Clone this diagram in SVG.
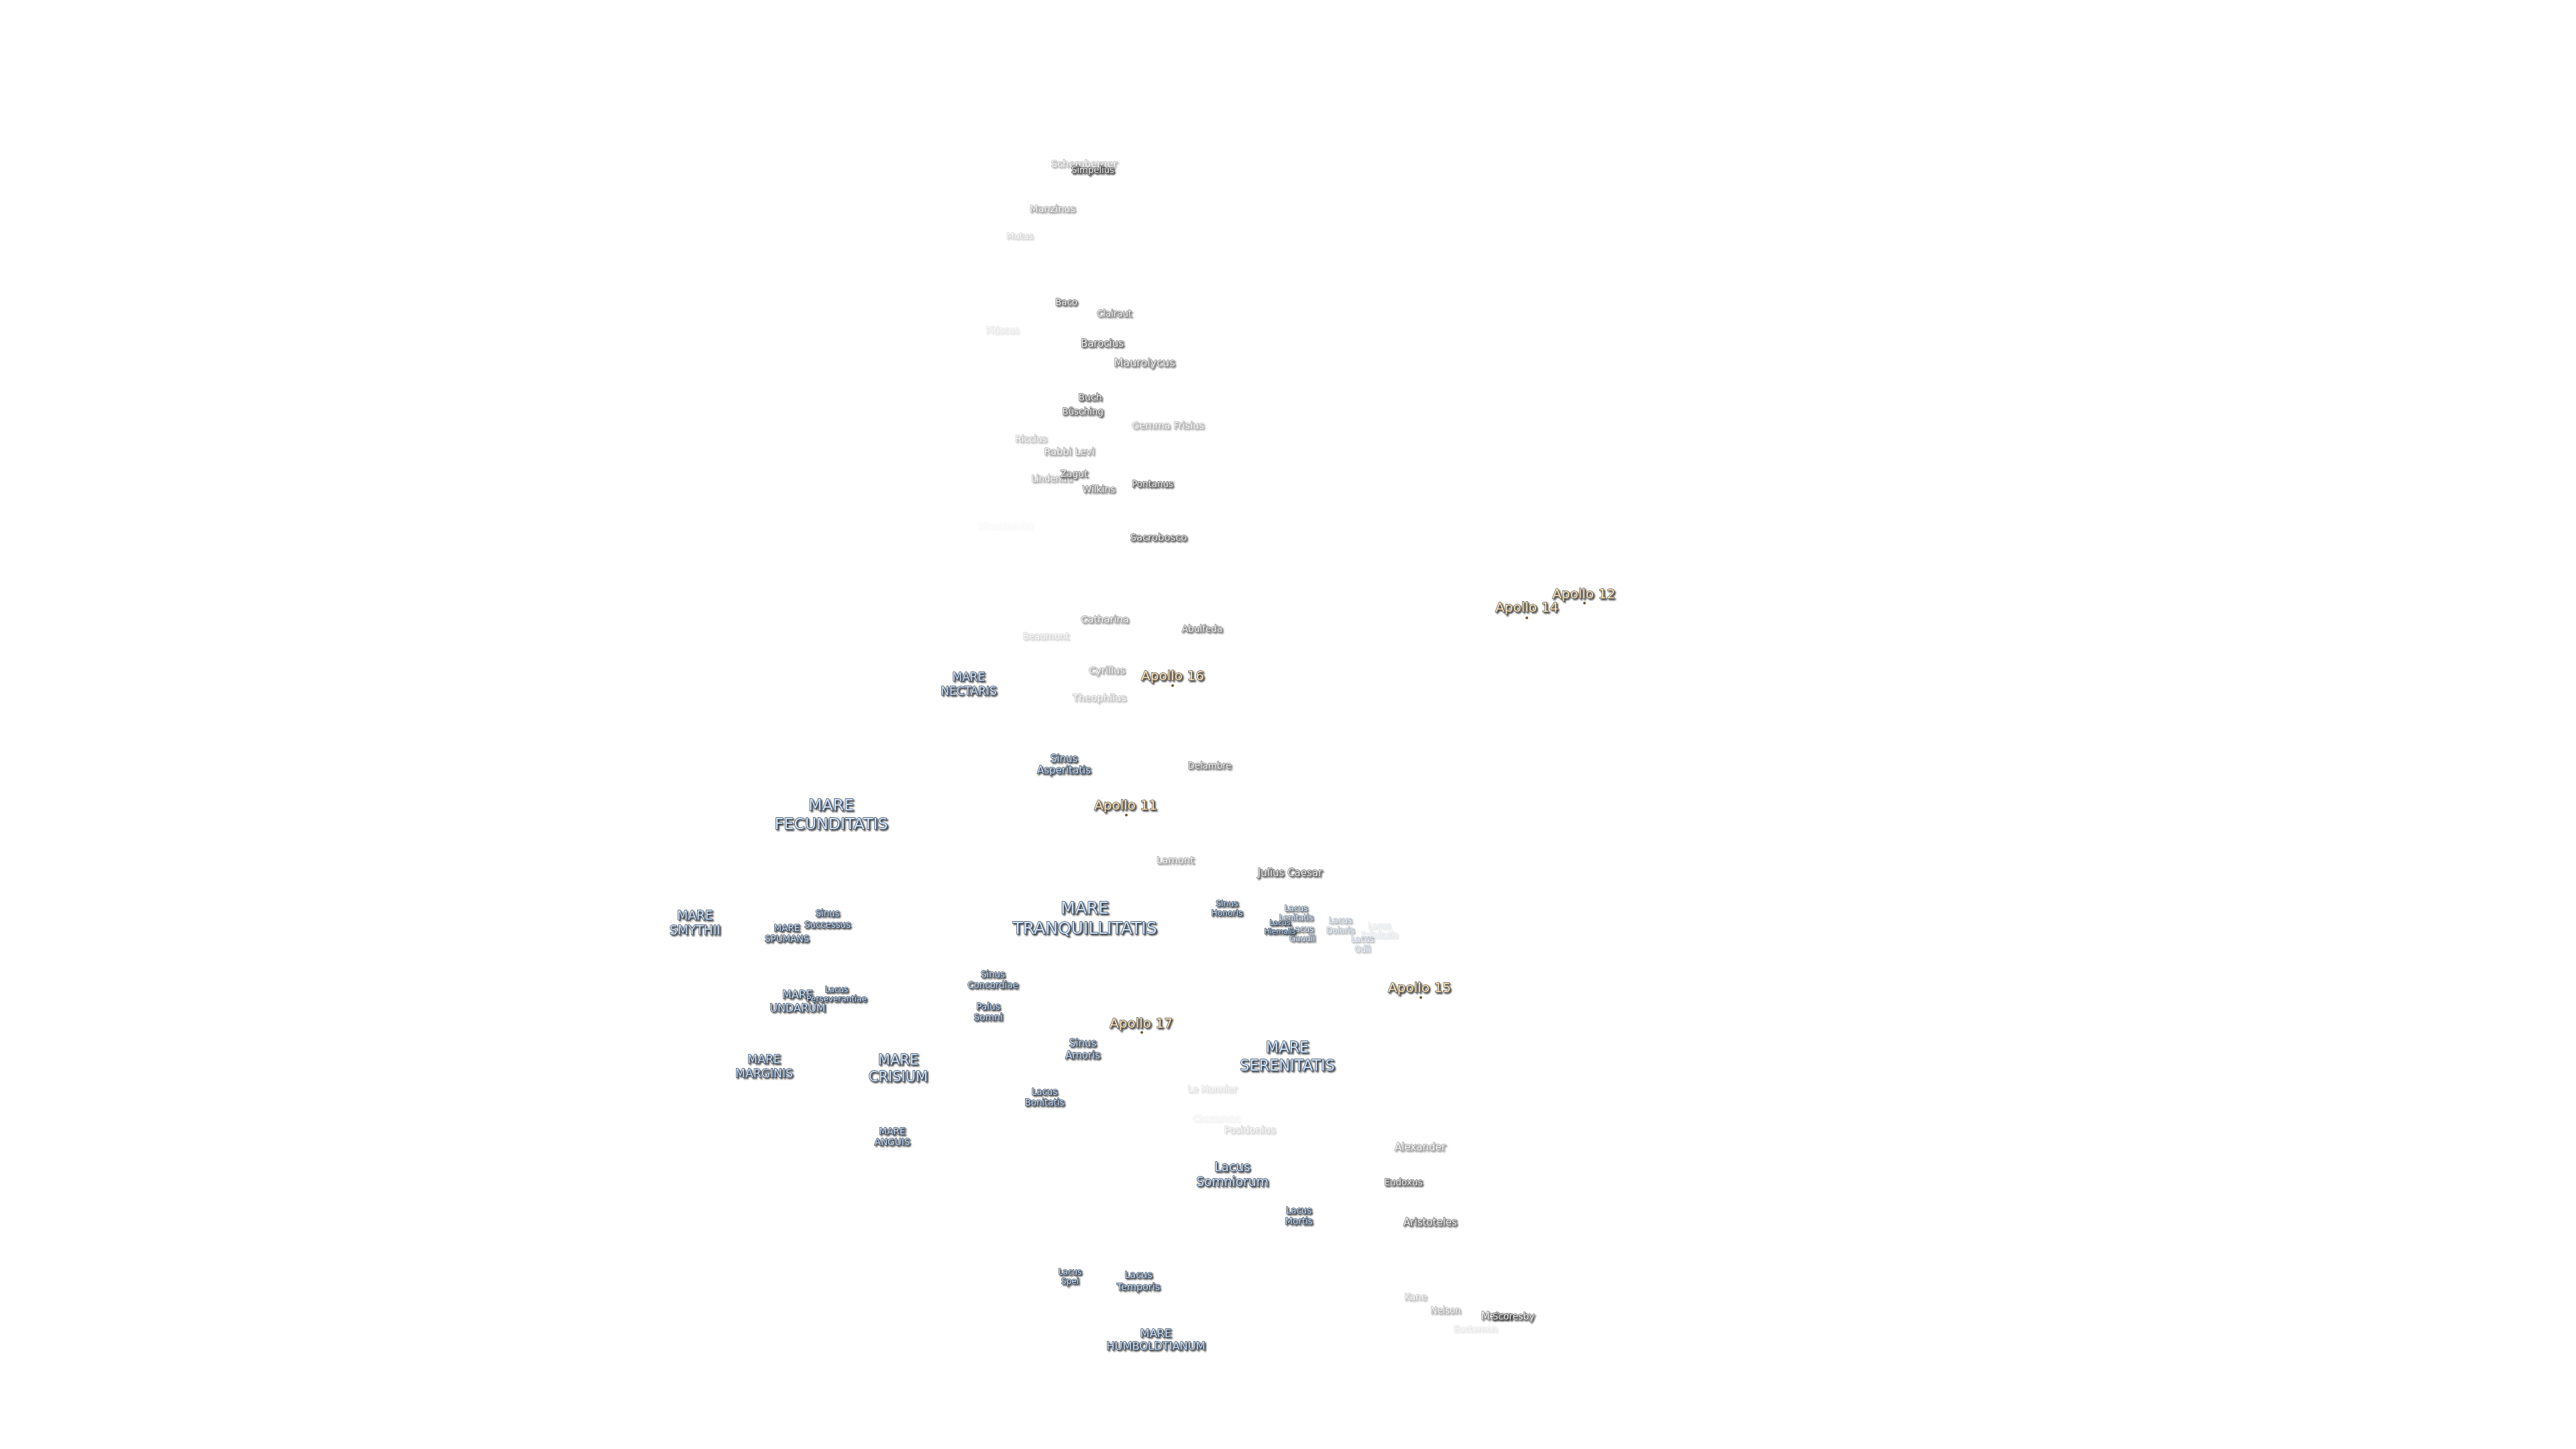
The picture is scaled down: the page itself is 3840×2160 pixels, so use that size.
<svg xmlns="http://www.w3.org/2000/svg" width="3840" height="2160" viewBox="0 0 3840 2160">
<style>
text{font-family:"DejaVu Sans",sans-serif;text-anchor:middle;paint-order:stroke;stroke-linejoin:round;stroke-width:1.4px;filter:url(#sh)}
.c{fill:#f4f4f4;stroke:#3a3a3a}
.m{fill:#cfe4fb;stroke:#2f3d50}
.a{fill:#ffe4b4;stroke:#4a4a4a;font-size:20px}
.s{fill:#6b5428}
</style>
<defs>
<filter id="sh" x="-20%" y="-30%" width="140%" height="160%">
<feGaussianBlur in="SourceGraphic" stdDeviation="0.4" result="b"/>
<feGaussianBlur in="SourceAlpha" stdDeviation="0.8"/>
<feOffset dx="1.5" dy="1.5"/>
<feComponentTransfer><feFuncA type="linear" slope="0.75"/></feComponentTransfer>
<feMerge><feMergeNode/><feMergeNode in="b"/></feMerge>
</filter>
</defs>
<rect width="3840" height="2160" fill="#fff"/>
<g id="craters" transform="translate(0,-1.5)">
<g id="schemberger" opacity=".38"><text class="c" x="1616" y="250" font-size="14.7">Schemberger</text></g>
<g id="simpelius"><text class="c" x="1629" y="259" font-size="13.2">Simpelius</text></g>
<g id="manzinus" opacity=".48"><text class="c" x="1569" y="317" font-size="14.5">Manzinus</text></g>
<g id="mutus" opacity=".22"><text class="c" x="1520" y="357" font-size="13">Mutus</text></g>
<g id="baco" opacity=".8"><text class="c" x="1589.5" y="456" font-size="13.5">Baco</text></g>
<g id="clairaut" opacity=".65"><text class="c" x="1661" y="473" font-size="13.3">Clairaut</text></g>
<g id="pitiscus" opacity=".13"><text class="c" x="1494" y="498" font-size="13.2">Pitiscus</text></g>
<g id="barocius" opacity=".8"><text class="c" x="1643" y="518" font-size="15">Barocius</text></g>
<g id="maurolycus" opacity=".7"><text class="c" x="1706" y="547" font-size="16">Maurolycus</text></g>
<g id="buch" opacity=".85"><text class="c" x="1625" y="598" font-size="14">Buch</text></g>
<g id="busching" opacity=".8"><text class="c" x="1614" y="619" font-size="13.5">Büsching</text></g>
<g id="gemma-frisius" opacity=".42"><text class="c" x="1741" y="640" font-size="14.6">Gemma Frisius</text></g>
<g id="riccius" opacity=".32"><text class="c" x="1537" y="660" font-size="13.4">Riccius</text></g>
<g id="rabbi-levi" opacity=".48"><text class="c" x="1594" y="679" font-size="14.5">Rabbi Levi</text></g>
<g id="lindenau" opacity=".42"><text class="c" x="1568" y="719" font-size="13.3">Lindenau</text></g>
<g id="zagut" opacity=".7"><text class="c" x="1601" y="712" font-size="13.8">Zagut</text></g>
<g id="wilkins" opacity=".65"><text class="c" x="1638" y="735" font-size="13.8">Wilkins</text></g>
<g id="pontanus" opacity=".85"><text class="c" x="1718" y="727" font-size="13.4">Pontanus</text></g>
<g id="piccolomini" opacity=".03"><text class="c" x="1499" y="790" font-size="14.5">Piccolomini</text></g>
<g id="sacrobosco" opacity=".85"><text class="c" x="1727" y="807" font-size="14.8">Sacrobosco</text></g>
<g id="catharina" opacity=".55"><text class="c" x="1647" y="929" font-size="14.7">Catharina</text></g>
<g id="beaumont" opacity=".22"><text class="c" x="1559" y="954" font-size="13.4">Beaumont</text></g>
<g id="abulfeda" opacity=".7"><text class="c" x="1792" y="943" font-size="13.6">Abulfeda</text></g>
<g id="cyrillus" opacity=".48"><text class="c" x="1650" y="1005" font-size="14.7">Cyrillus</text></g>
<g id="theophilus" opacity=".32"><text class="c" x="1639" y="1046" font-size="14.7">Theophilus</text></g>
<g id="delambre" opacity=".7"><text class="c" x="1803" y="1147" font-size="13.3">Delambre</text></g>
<g id="lamont" opacity=".52"><text class="c" x="1752" y="1288" font-size="14.8">Lamont</text></g>
<g id="julius-caesar" opacity=".85"><text class="c" x="1923" y="1307" font-size="15">Julius Caesar</text></g>
<g id="le-monnier" opacity=".16"><text class="c" x="1807" y="1629" font-size="13.3">Le Monnier</text></g>
<g id="chacornac" opacity=".07"><text class="c" x="1813" y="1673" font-size="13.4">Chacornac</text></g>
<g id="posidonius" opacity=".22"><text class="c" x="1863" y="1690" font-size="14.5">Posidonius</text></g>
<g id="alexander" opacity=".52"><text class="c" x="2117" y="1716" font-size="15">Alexander</text></g>
<g id="eudoxus" opacity=".85"><text class="c" x="2092" y="1768" font-size="13.5">Eudoxus</text></g>
<g id="aristoteles" opacity=".8"><text class="c" x="2132" y="1828" font-size="15">Aristoteles</text></g>
<g id="kane" opacity=".32"><text class="c" x="2110" y="1939" font-size="13.5">Kane</text></g>
<g id="nelson" opacity=".42"><text class="c" x="2155" y="1959" font-size="13.2">Nelson</text></g>
<g id="euctemon" opacity=".13"><text class="c" x="2199" y="1986" font-size="13">Euctemon</text></g>
<g id="meton" opacity=".7"><text class="c" x="2231" y="1968" font-size="15">Meton</text></g>
<g id="scoresby" opacity=".85"><text class="c" x="2256" y="1968" font-size="13.8">Scoresby</text></g>
</g>
<g id="maria" transform="translate(0,-1)">
<g id="mare-nectaris"><text class="m" font-size="17"><tspan x="1444" y="1016">MARE</tspan><tspan x="1444" y="1037">NECTARIS</tspan></text></g>
<g id="sinus-asperitatis"><text class="m" font-size="15"><tspan x="1586" y="1137">Sinus</tspan><tspan x="1586" y="1154">Asperitatis</tspan></text></g>
<g id="mare-fecunditatis"><text class="m" font-size="23.7"><tspan x="1239" y="1209">MARE</tspan><tspan x="1239" y="1237">FECUNDITATIS</tspan></text></g>
<g id="mare-tranquillitatis"><text class="m" font-size="25"><tspan x="1617" y="1363">MARE</tspan><tspan x="1617" y="1393">TRANQUILLITATIS</tspan></text></g>
<g id="sinus-honoris"><text class="m" font-size="12.3"><tspan x="1829" y="1352">Sinus</tspan><tspan x="1829" y="1366">Honoris</tspan></text></g>
<g id="sinus-successus"><text class="m" font-size="13.3"><tspan x="1233.5" y="1367">Sinus</tspan><tspan x="1233.5" y="1384">Successus</tspan></text></g>
<g id="mare-spumans"><text class="m" font-size="13.5"><tspan x="1173" y="1389">MARE</tspan><tspan x="1173" y="1405">SPUMANS</tspan></text></g>
<g id="mare-smythii"><text class="m" font-size="18.7"><tspan x="1036" y="1372">MARE</tspan><tspan x="1036" y="1394">SMYTHII</tspan></text></g>
<g id="mare-undarum"><text class="m" font-size="16"><tspan x="1189" y="1489">MARE</tspan><tspan x="1189" y="1509">UNDARUM</tspan></text></g>
<g id="lacus-perseverantiae"><text class="m" font-size="12"><tspan x="1247" y="1480">Lacus</tspan><tspan x="1247" y="1494">Perseverantiae</tspan></text></g>
<g id="sinus-concordiae"><text class="m" font-size="13.4"><tspan x="1480" y="1458">Sinus</tspan><tspan x="1480" y="1474">Concordiae</tspan></text></g>
<g id="palus-somni"><text class="m" font-size="13.7"><tspan x="1473" y="1506">Palus</tspan><tspan x="1473" y="1522">Somni</tspan></text></g>
<g id="mare-marginis"><text class="m" font-size="17.2"><tspan x="1139" y="1586">MARE</tspan><tspan x="1139" y="1607">MARGINIS</tspan></text></g>
<g id="mare-crisium"><text class="m" font-size="21"><tspan x="1339" y="1588">MARE</tspan><tspan x="1339" y="1613">CRISIUM</tspan></text></g>
<g id="mare-anguis"><text class="m" font-size="13.7"><tspan x="1330" y="1692">MARE</tspan><tspan x="1330" y="1708">ANGUIS</tspan></text></g>
<g id="lacus-lenitatis" opacity=".7"><text class="m" font-size="12"><tspan x="1932" y="1359">Lacus</tspan><tspan x="1932" y="1373">Lenitatis</tspan></text></g>
<g id="lacus-gaudii" opacity=".7"><text class="m" font-size="12"><tspan x="1941" y="1390">Lacus</tspan><tspan x="1941" y="1404">Gaudii</tspan></text></g>
<g id="lacus-hiemalis"><text class="m" font-size="10.8"><tspan x="1908" y="1380">Lacus</tspan><tspan x="1908" y="1393">Hiemalis</tspan></text></g>
<g id="lacus-doloris" opacity=".38"><text class="m" font-size="12"><tspan x="1998" y="1377">Lacus</tspan><tspan x="1998" y="1392">Doloris</tspan></text></g>
<g id="lacus-felicitatis" opacity=".13"><text class="m" font-size="11.7"><tspan x="2056" y="1385">Lacus</tspan><tspan x="2056" y="1399">Felicitatis</tspan></text></g>
<g id="lacus-odii" opacity=".32"><text class="m" font-size="11.8"><tspan x="2031" y="1405">Lacus</tspan><tspan x="2031" y="1420">Odii</tspan></text></g>
<g id="sinus-amoris"><text class="m" font-size="15"><tspan x="1614" y="1561">Sinus</tspan><tspan x="1614" y="1579">Amoris</tspan></text></g>
<g id="lacus-bonitatis"><text class="m" font-size="13.4"><tspan x="1557" y="1633">Lacus</tspan><tspan x="1557" y="1649">Bonitatis</tspan></text></g>
<g id="mare-serenitatis"><text class="m" font-size="22.4"><tspan x="1919" y="1570">MARE</tspan><tspan x="1919" y="1597">SERENITATIS</tspan></text></g>
<g id="lacus-somniorum"><text class="m" font-size="18.7"><tspan x="1837" y="1747">Lacus</tspan><tspan x="1837" y="1769">Somniorum</tspan></text></g>
<g id="lacus-mortis"><text class="m" font-size="13.4"><tspan x="1936" y="1810">Lacus</tspan><tspan x="1936" y="1826">Mortis</tspan></text></g>
<g id="lacus-spei"><text class="m" font-size="12"><tspan x="1595" y="1901">Lacus</tspan><tspan x="1595" y="1915">Spei</tspan></text></g>
<g id="lacus-temporis"><text class="m" font-size="14.4"><tspan x="1697" y="1906">Lacus</tspan><tspan x="1697" y="1924">Temporis</tspan></text></g>
<g id="mare-humboldtianum"><text class="m" font-size="16.3"><tspan x="1723" y="1994">MARE</tspan><tspan x="1723" y="2013">HUMBOLDTIANUM</tspan></text></g>
</g>
<g id="sites" transform="translate(0,-1)">
<g id="apollo-16"><text class="a" x="1748" y="1015">Apollo 16</text><circle class="s" cx="1748" cy="1023" r="2"/></g>
<g id="apollo-11"><text class="a" x="1678" y="1208">Apollo 11</text><circle class="s" cx="1679" cy="1216" r="2"/></g>
<g id="apollo-12"><text class="a" x="2361" y="893">Apollo 12</text><circle class="s" cx="2362" cy="900" r="2"/></g>
<g id="apollo-14"><text class="a" x="2276" y="913">Apollo 14</text><circle class="s" cx="2276" cy="922" r="2"/></g>
<g id="apollo-15"><text class="a" x="2116" y="1480">Apollo 15</text><circle class="s" cx="2118" cy="1488" r="2"/></g>
<g id="apollo-17"><text class="a" x="1701" y="1533">Apollo 17</text><circle class="s" cx="1702" cy="1540" r="2"/></g>
</g>
</svg>
